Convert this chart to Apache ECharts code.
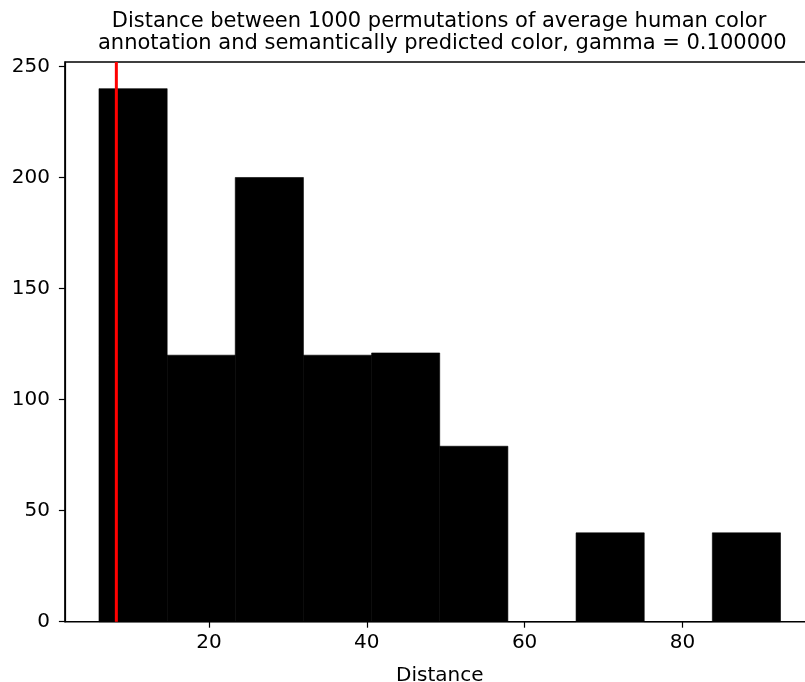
<!DOCTYPE html>
<html><head><meta charset="utf-8">
<script src="https://cdn.jsdelivr.net/npm/echarts@6/dist/echarts.min.js"></script>
<style>html,body{margin:0;padding:0;background:#fff}#c{width:805px;height:682px}</style>
</head><body><div id="c"></div>
<script>
const binEdges = [6.06, 14.70, 23.33, 31.97, 40.61, 49.24, 57.88, 66.52, 75.16, 83.79, 92.43];
const counts = [240, 120, 200, 120, 121, 79, 0, 40, 0, 40];
const observed = 8.26;
const xTicks = [20, 40, 60, 80];
const yTicks = [0, 50, 100, 150, 200, 250];
const titleText = 'Distance between 1000 permutations of average human color\n annotation and semantically predicted color, gamma = 0.100000';

const bins = counts.map((c, i) => [binEdges[i], binEdges[i + 1], c]);
const font = 'DejaVu Sans';
const chart = echarts.init(document.getElementById('c'), null, {renderer: 'canvas'});
chart.setOption({
  animation: false,
  backgroundColor: '#fff',
  title: {
    text: titleText, left: 434, top: 6, textAlign: 'center',
    textStyle: {fontFamily: font, fontSize: 21, fontWeight: 'normal', color: '#000', lineHeight: 21.5}
  },
  grid: {left: 64.9, top: 62, width: 749.7, bottom: 60.3, outerBoundsMode: 'none', containLabel: false,
         show: true, borderColor: '#000', borderWidth: 1.5, backgroundColor: 'transparent'},
  xAxis: {
    type: 'value', min: 1.74, max: 96.75,
    name: 'Distance', nameLocation: 'middle', nameGap: 44,
    nameTextStyle: {fontFamily: font, fontSize: 20, color: '#000'},
    axisLine: {show: true, onZero: false, lineStyle: {color: '#000', width: 1.2}},
    axisTick: {show: true, length: 6, lineStyle: {color: '#000', width: 1.2}, customValues: xTicks},
    axisLabel: {fontFamily: font, fontSize: 20, color: '#000', margin: 11, customValues: xTicks},
    splitLine: {show: false}
  },
  yAxis: {
    type: 'value', min: 0, max: 252,
    axisLine: {show: true, lineStyle: {color: '#000', width: 1.2}},
    axisTick: {show: true, length: 6, lineStyle: {color: '#000', width: 1.2}, customValues: yTicks},
    axisLabel: {fontFamily: font, fontSize: 20, color: '#000', margin: 15, customValues: yTicks},
    splitLine: {show: false}
  },
  series: [{
    type: 'custom',
    data: bins,
    encode: {x: [0, 1], y: 2},
    renderItem: function (params, api) {
      const p0 = api.coord([api.value(0), api.value(2)]);
      const p1 = api.coord([api.value(1), 0]);
      return {
        type: 'rect',
        shape: {x: p0[0], y: p0[1], width: p1[0] - p0[0], height: p1[1] - p0[1]},
        style: {fill: '#000', stroke: '#000', lineWidth: 0.6}
      };
    }
  }, {
    type: 'line',
    data: [[observed, 0], [observed, 252]],
    symbol: 'none',
    lineStyle: {color: '#ff0000', width: 3},
    z: 5
  }]
});
</script></body></html>
